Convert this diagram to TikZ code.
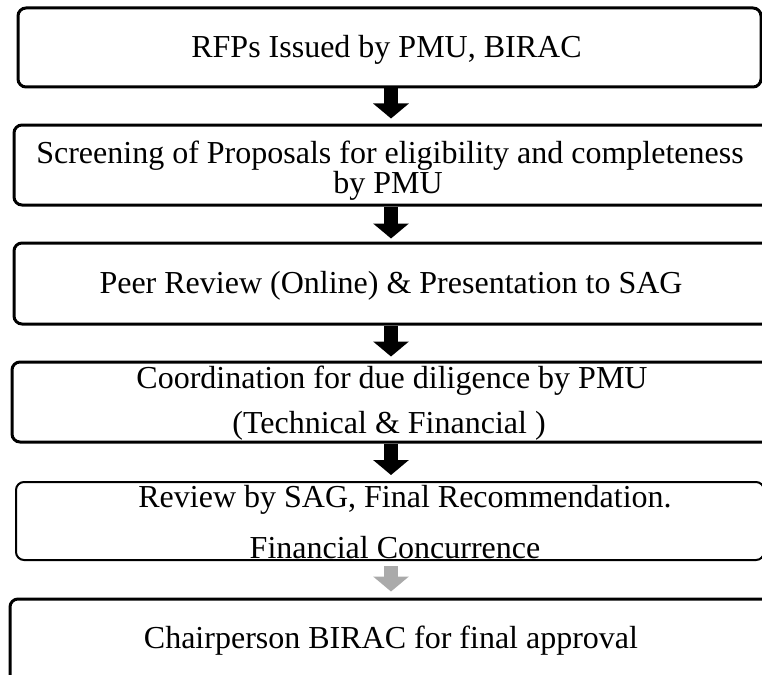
\documentclass[tikz,border=0pt]{standalone}
\usepackage{fontspec}
\setmainfont{Liberation Serif}
\usetikzlibrary{arrows.meta}
\definecolor{lightarrow}{HTML}{AAAAAA}
\begin{document}
\begin{tikzpicture}[x=1pt,y=-1pt,
  box/.style={draw, line width=3pt, rounded corners=8pt, inner sep=0pt},
  lbl/.style={font=\fontsize{32}{36}\selectfont, anchor=base, inner sep=0pt},
  flow/.style={line width=14pt, -{Triangle[width=35pt,length=15pt]}, black},
]
\useasboundingbox (0,0) rectangle (762,674);
\clip (0,0) rectangle (762,674);
\coordinate (ax) at (391,0);
% boxes
\node[box, minimum width=743pt, minimum height=79pt] (b1) at (389.5,47.5) {};
\node[box, minimum width=762pt, minimum height=80pt] (b2) at (395,165) {};
\node[box, minimum width=762pt, minimum height=81pt] (b3) at (395,283.5) {};
\node[box, minimum width=764pt, minimum height=80pt] (b4) at (394,402) {};
\node[box, line width=2pt, minimum width=748pt, minimum height=78pt] (b5) at (390,521) {};
\node[box, minimum width=766pt, minimum height=101pt] (b6) at (393,649.5) {};
% texts
\node[lbl] (t1) at (386.5,57.5) {RFPs Issued by PMU, BIRAC};
\node[lbl] (t2a) at (390,163.5) {Screening of Proposals for eligibility and completeness};
\node[lbl] (t2b) at (388,193.5) {by PMU};
\node[lbl] (t3) at (391,293.5) {Peer Review (Online) \& Presentation to SAG};
\node[lbl] (t4a) at (392,388.5) {Coordination for due diligence by PMU};
\node[lbl] (t4b) at (389,433.5) {(Technical \& Financial )};
\node[lbl] (t5a) at (405,507.5) {Review by SAG, Final Recommendation.};
\node[lbl] (t5b) at (395,558.5) {Financial Concurrence};
\node[lbl] (t6) at (391,648.5) {Chairperson BIRAC for final approval};
% arrows
\draw[flow, shorten >=5pt] (b1.south -| ax) -- (b2.north -| ax);
\draw[flow, shorten >=3pt] (b2.south -| ax) -- (b3.north -| ax);
\draw[flow, shorten >=4pt] (b3.south -| ax) -- (b4.north -| ax);
\draw[flow, shorten >=6pt] (b4.south -| ax) -- (b5.north -| ax);
\draw[flow, lightarrow, shorten <=5pt, shorten >=6pt] (b5.south -| ax) -- (b6.north -| ax);
\end{tikzpicture}
\end{document}
